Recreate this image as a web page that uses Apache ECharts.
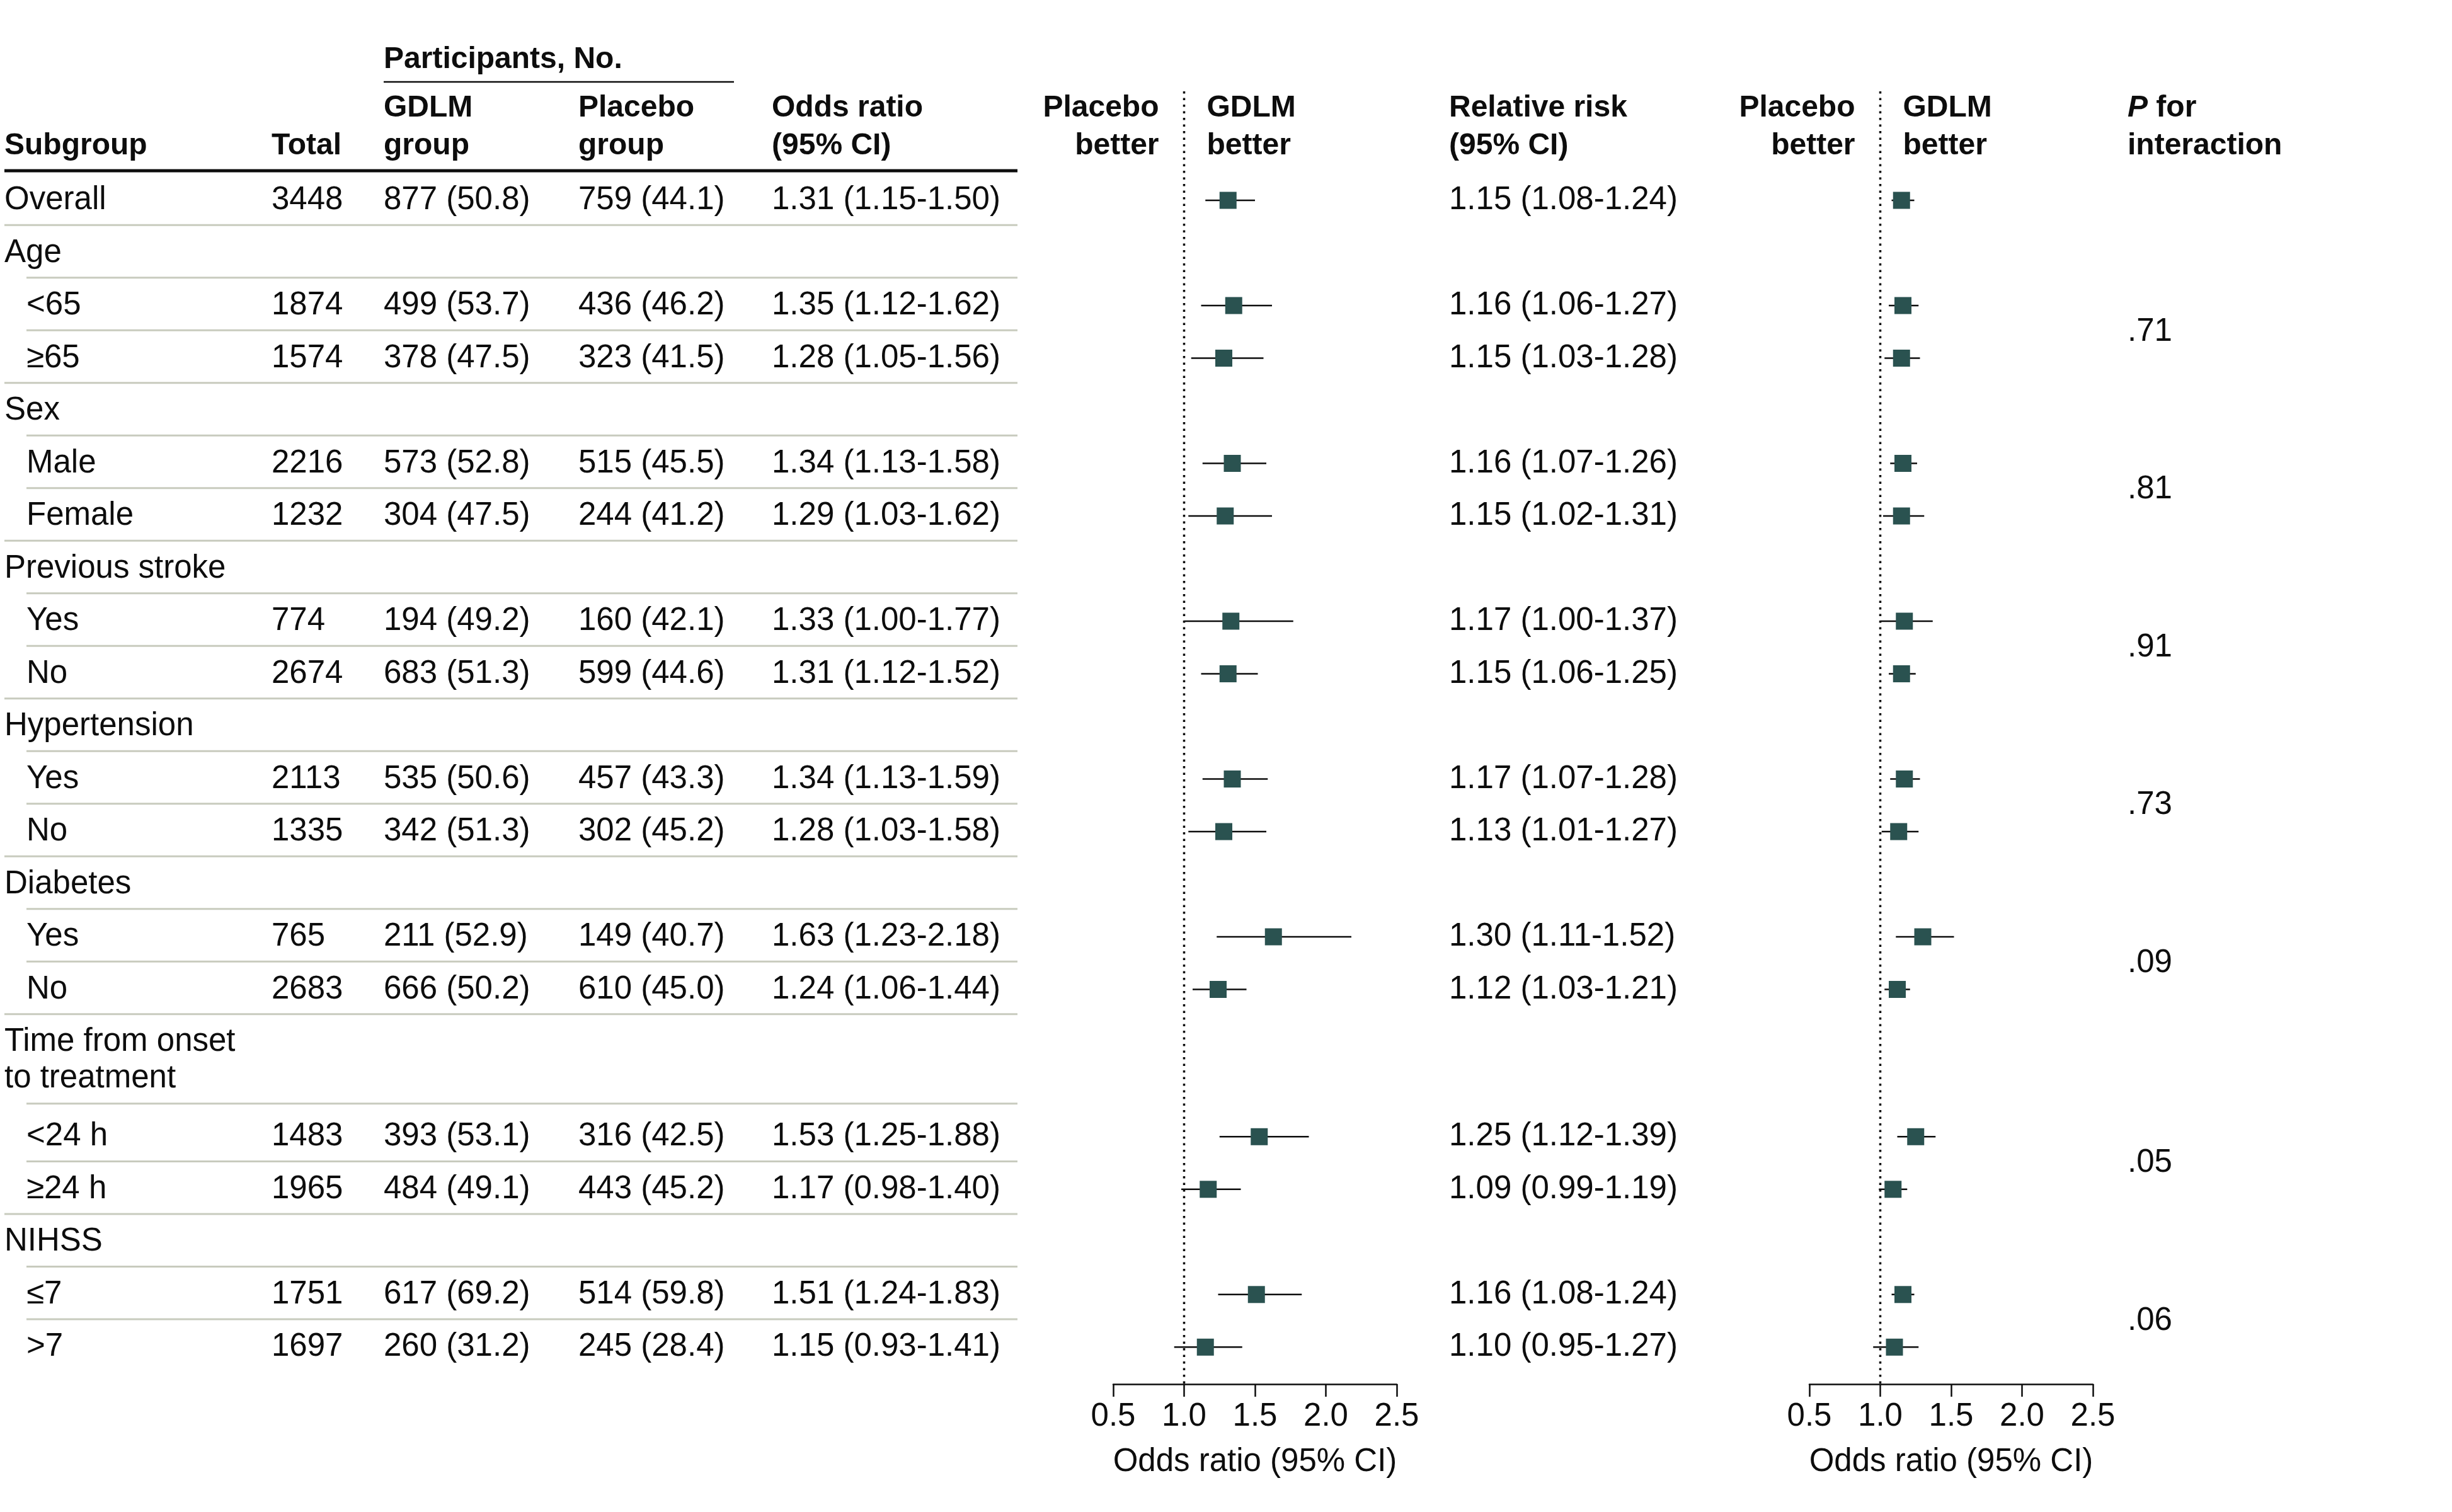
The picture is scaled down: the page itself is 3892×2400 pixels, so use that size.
<!DOCTYPE html>
<html><head><meta charset="utf-8">
<script src="https://cdn.jsdelivr.net/npm/echarts@6/dist/echarts.min.js"></script>
<style>html,body{margin:0;padding:0;background:#fff}#c{width:3892px;height:2400px}</style>
</head><body><div id="c"></div><script>
// ---------------- DATA ----------------
const subgroups = ['Overall','Age','<65','\u226565','Sex','Male','Female','Previous stroke','Yes','No','Hypertension','Yes','No','Diabetes','Yes','No','Time from onset\nto treatment','<24 h','\u226524 h','NIHSS','\u22647','>7'];
const subRow = [false,false,true,true,false,true,true,false,true,true,false,true,true,false,true,true,false,true,true,false,true,true];
const totals = [3448,null,1874,1574,null,2216,1232,null,774,2674,null,2113,1335,null,765,2683,null,1483,1965,null,1751,1697];
const gdlmN = [877,null,499,378,null,573,304,null,194,683,null,535,342,null,211,666,null,393,484,null,617,260];
const gdlmPct = [50.8,null,53.7,47.5,null,52.8,47.5,null,49.2,51.3,null,50.6,51.3,null,52.9,50.2,null,53.1,49.1,null,69.2,31.2];
const placeboN = [759,null,436,323,null,515,244,null,160,599,null,457,302,null,149,610,null,316,443,null,514,245];
const placeboPct = [44.1,null,46.2,41.5,null,45.5,41.2,null,42.1,44.6,null,43.3,45.2,null,40.7,45.0,null,42.5,45.2,null,59.8,28.4];
const orEst  = [1.31,null,1.35,1.28,null,1.34,1.29,null,1.33,1.31,null,1.34,1.28,null,1.63,1.24,null,1.53,1.17,null,1.51,1.15];
const orLow  = [1.15,null,1.12,1.05,null,1.13,1.03,null,1.00,1.12,null,1.13,1.03,null,1.23,1.06,null,1.25,0.98,null,1.24,0.93];
const orHigh = [1.50,null,1.62,1.56,null,1.58,1.62,null,1.77,1.52,null,1.59,1.58,null,2.18,1.44,null,1.88,1.40,null,1.83,1.41];
const rrEst  = [1.15,null,1.16,1.15,null,1.16,1.15,null,1.17,1.15,null,1.17,1.13,null,1.30,1.12,null,1.25,1.09,null,1.16,1.10];
const rrLow  = [1.08,null,1.06,1.03,null,1.07,1.02,null,1.00,1.06,null,1.07,1.01,null,1.11,1.03,null,1.12,0.99,null,1.08,0.95];
const rrHigh = [1.24,null,1.27,1.28,null,1.26,1.31,null,1.37,1.25,null,1.28,1.27,null,1.52,1.21,null,1.39,1.19,null,1.24,1.27];
const pInteraction = [null,'.71',null,null,'.81',null,null,'.91',null,null,'.73',null,null,'.09',null,null,'.05',null,null,'.06',null,null];
const axisTicks = [0.5, 1.0, 1.5, 2.0, 2.5];
const NULL_EFFECT = [1];
const axisTitle = 'Odds ratio (95% CI)';

// ---------------- LAYOUT ----------------
const W = 3892, H = 2400;
const FONT = '"Liberation Sans", Arial, sans-serif';
const FS = 51, HFS = 48;
const INK = '#0d0d0d', MARK = '#2a5250', RULE = '#c8cbbe';
const UNIT = 83.5, Y0 = 318, AXIS_Y = 2197, PLOT_TOP = 145;
const toRow = px => (px - Y0) / UNIT;
const COL = {label: 7, sub: 42, total: 431, gdlm: 609, placebo: 918, or: 1225, rr: 2300, p: 3377, ruleEnd: 1615};
const FOREST = [{left: 1767, width: 450}, {left: 2872, width: 450}];

const nLines = subgroups.map(s => s.split('\n').length);
const pos = []; { let acc = 0; subgroups.forEach((s, i) => { pos.push(acc); acc += 1 + (nLines[i] - 1) * 0.8; }); }
const LINE_GAP = 58 / UNIT;
const sepY = pos.map((p, i) => p + 0.47 + (nLines[i] - 1) * 0.7);

const fmtN = (n, pct) => n == null ? null : n + ' (' + pct.toFixed(1) + ')';
const fmtCI = (e, l, h) => e == null ? null : e.toFixed(2) + ' (' + l.toFixed(2) + '-' + h.toFixed(2) + ')';

// text items for table
const items = [];
subgroups.forEach((s, i) => {
  s.split('\n').forEach((ln, k) => items.push({x: subRow[i] ? COL.sub : COL.label, y: pos[i] + k * LINE_GAP, text: ln}));
  if (totals[i] != null) items.push({x: COL.total, y: pos[i], text: String(totals[i])});
  const g = fmtN(gdlmN[i], gdlmPct[i]); if (g) items.push({x: COL.gdlm, y: pos[i], text: g});
  const p = fmtN(placeboN[i], placeboPct[i]); if (p) items.push({x: COL.placebo, y: pos[i], text: p});
  const o = fmtCI(orEst[i], orLow[i], orHigh[i]); if (o) items.push({x: COL.or, y: pos[i], text: o});
  const r = fmtCI(rrEst[i], rrLow[i], rrHigh[i]); if (r) items.push({x: COL.rr, y: pos[i], text: r});
  if (pInteraction[i] != null) {
    const kids = []; for (let j = i + 1; j < subgroups.length && subRow[j]; j++) kids.push(pos[j]);
    items.push({x: COL.p, y: kids.reduce((a, b) => a + b, 0) / kids.length, text: pInteraction[i]});
  }
});
// headers
const headers = [
  {x: COL.label, py: 232, text: 'Subgroup'},
  {x: COL.total, py: 232, text: 'Total'},
  {x: COL.gdlm, py: 95, text: 'Participants, No.'},
  {x: COL.gdlm, py: 172, text: 'GDLM'}, {x: COL.gdlm, py: 232, text: 'group'},
  {x: COL.placebo, py: 172, text: 'Placebo'}, {x: COL.placebo, py: 232, text: 'group'},
  {x: COL.or, py: 172, text: 'Odds ratio'}, {x: COL.or, py: 232, text: '(95% CI)'},
  {x: COL.rr, py: 172, text: 'Relative risk'}, {x: COL.rr, py: 232, text: '(95% CI)'},
  {x: COL.p, py: 172, text: '{i|P} for'}, {x: COL.p, py: 232, text: 'interaction'}
];
headers.forEach(h => items.push({x: h.x, y: toRow(h.py), text: h.text, bold: true}));

// rules
const rules = [];
for (let i = 0; i < subgroups.length - 1; i++) {
  rules.push({x1: subRow[i + 1] ? COL.sub : COL.label, x2: COL.ruleEnd, y: sepY[i], color: RULE, w: 3});
}
rules.push({x1: COL.label, x2: COL.ruleEnd, y: toRow(271), color: INK, w: 5});
rules.push({x1: COL.gdlm, x2: 1165, y: toRow(130), color: INK, w: 2.5});

function textStyle(txt, bold, align) {
  return {text: txt, fontSize: bold ? HFS : FS, fontFamily: FONT, fontWeight: bold ? 'bold' : 'normal', fill: INK,
    align: align || 'left', verticalAlign: 'middle',
    rich: {i: {fontStyle: 'italic', fontWeight: 'bold', fontSize: HFS, fontFamily: FONT, fill: INK}}};
}

const series = [];
series.push({
  type: 'custom', name: 'table', xAxisIndex: 0, yAxisIndex: 0, silent: true, z: 5,
  data: items.map(it => [it.x, it.y]),
  renderItem: (params, api) => {
    const it = items[params.dataIndex];
    const p = api.coord([api.value(0), api.value(1)]);
    return {type: 'text', x: p[0], y: p[1], style: textStyle(it.text, it.bold)};
  }
});
series.push({
  type: 'custom', name: 'rules', xAxisIndex: 0, yAxisIndex: 0, silent: true, z: 3,
  data: rules.map(r => [r.x1, r.x2, r.y]),
  renderItem: (params, api) => {
    const r = rules[params.dataIndex];
    const a = api.coord([api.value(0), api.value(2)]), b = api.coord([api.value(1), api.value(2)]);
    return {type: 'line', shape: {x1: a[0], y1: a[1], x2: b[0], y2: b[1]}, style: {stroke: r.color, lineWidth: r.w}};
  }
});

function forest(g, est, lo, hi) {
  const idx = est.map((v, i) => v == null ? -1 : i).filter(i => i >= 0);
  series.push({
    type: 'custom', name: 'forest' + g, xAxisIndex: g, yAxisIndex: g, silent: true, z: 6,
    data: idx.map(i => [est[i], lo[i], hi[i], pos[i]]),
    encode: {x: [0, 1, 2], y: 3},
    renderItem: (params, api) => {
      const y = api.value(3);
      const pl = api.coord([api.value(1), y]), ph = api.coord([api.value(2), y]), pe = api.coord([api.value(0), y]);
      return {type: 'group', children: [
        {type: 'line', shape: {x1: pl[0], y1: pl[1], x2: ph[0], y2: ph[1]}, style: {stroke: INK, lineWidth: 2.5}},
        {type: 'rect', shape: {x: pe[0] - 13.5, y: pe[1] - 13.5, width: 27, height: 27}, style: {fill: MARK}}
      ]};
    }
  });
  series.push({
    type: 'custom', name: 'null' + g, xAxisIndex: g, yAxisIndex: g, silent: true, z: 4,
    data: NULL_EFFECT.map(v => [v, 0]),
    renderItem: (params, api) => {
      const cs = params.coordSys; const x = api.coord([api.value(0), 0])[0];
      return {type: 'line', shape: {x1: x, y1: cs.y, x2: x, y2: cs.y + cs.height}, style: {stroke: INK, lineWidth: 3.5, lineDash: [3.5, 7]}};
    }
  });
  const fh = [
    {dx: -40, py: 172, text: 'Placebo', align: 'right'}, {dx: -40, py: 232, text: 'better', align: 'right'},
    {dx: 36, py: 172, text: 'GDLM', align: 'left'}, {dx: 36, py: 232, text: 'better', align: 'left'}
  ];
  series.push({
    type: 'custom', name: 'fh' + g, xAxisIndex: g, yAxisIndex: g, silent: true, z: 5,
    data: fh.map(h => [NULL_EFFECT[0], toRow(h.py)]),
    renderItem: (params, api) => {
      const h = fh[params.dataIndex];
      const p = api.coord([api.value(0), api.value(1)]);
      return {type: 'text', x: p[0] + h.dx, y: p[1], style: textStyle(h.text, true, h.align)};
    }
  });
}
forest(1, orEst, orLow, orHigh);
forest(2, rrEst, rrLow, rrHigh);

const forestX = i => ({
  type: 'value', gridIndex: i, min: axisTicks[0], max: axisTicks[axisTicks.length - 1], interval: axisTicks[1] - axisTicks[0],
  axisLine: {show: true, onZero: false, lineStyle: {color: INK, width: 2.5}},
  axisTick: {show: true, inside: false, length: 20, lineStyle: {color: INK, width: 2.5}},
  axisLabel: {show: true, fontSize: FS, fontFamily: FONT, color: INK, margin: 26, formatter: v => v.toFixed(1), showMinLabel: true, showMaxLabel: true},
  splitLine: {show: false},
  name: axisTitle, nameLocation: 'middle', nameGap: 98,
  nameTextStyle: {fontSize: FS, fontFamily: FONT, color: INK}
});

const option = {
  backgroundColor: '#ffffff',
  animation: false,
  grid: [
    {left: 0, right: 0, top: 0, bottom: H - AXIS_Y},
    {left: FOREST[0].left, width: FOREST[0].width, top: PLOT_TOP, bottom: H - AXIS_Y},
    {left: FOREST[1].left, width: FOREST[1].width, top: PLOT_TOP, bottom: H - AXIS_Y}
  ],
  xAxis: [
    {type: 'value', gridIndex: 0, min: 0, max: W, show: false},
    forestX(1), forestX(2)
  ],
  yAxis: [
    {type: 'value', gridIndex: 0, inverse: true, min: toRow(0), max: toRow(AXIS_Y), show: false},
    {type: 'value', gridIndex: 1, inverse: true, min: toRow(PLOT_TOP), max: toRow(AXIS_Y), show: false},
    {type: 'value', gridIndex: 2, inverse: true, min: toRow(PLOT_TOP), max: toRow(AXIS_Y), show: false}
  ],
  series: series
};
const chart = echarts.init(document.getElementById('c'), null, {renderer: 'canvas'});
chart.setOption(option);
</script></body></html>
